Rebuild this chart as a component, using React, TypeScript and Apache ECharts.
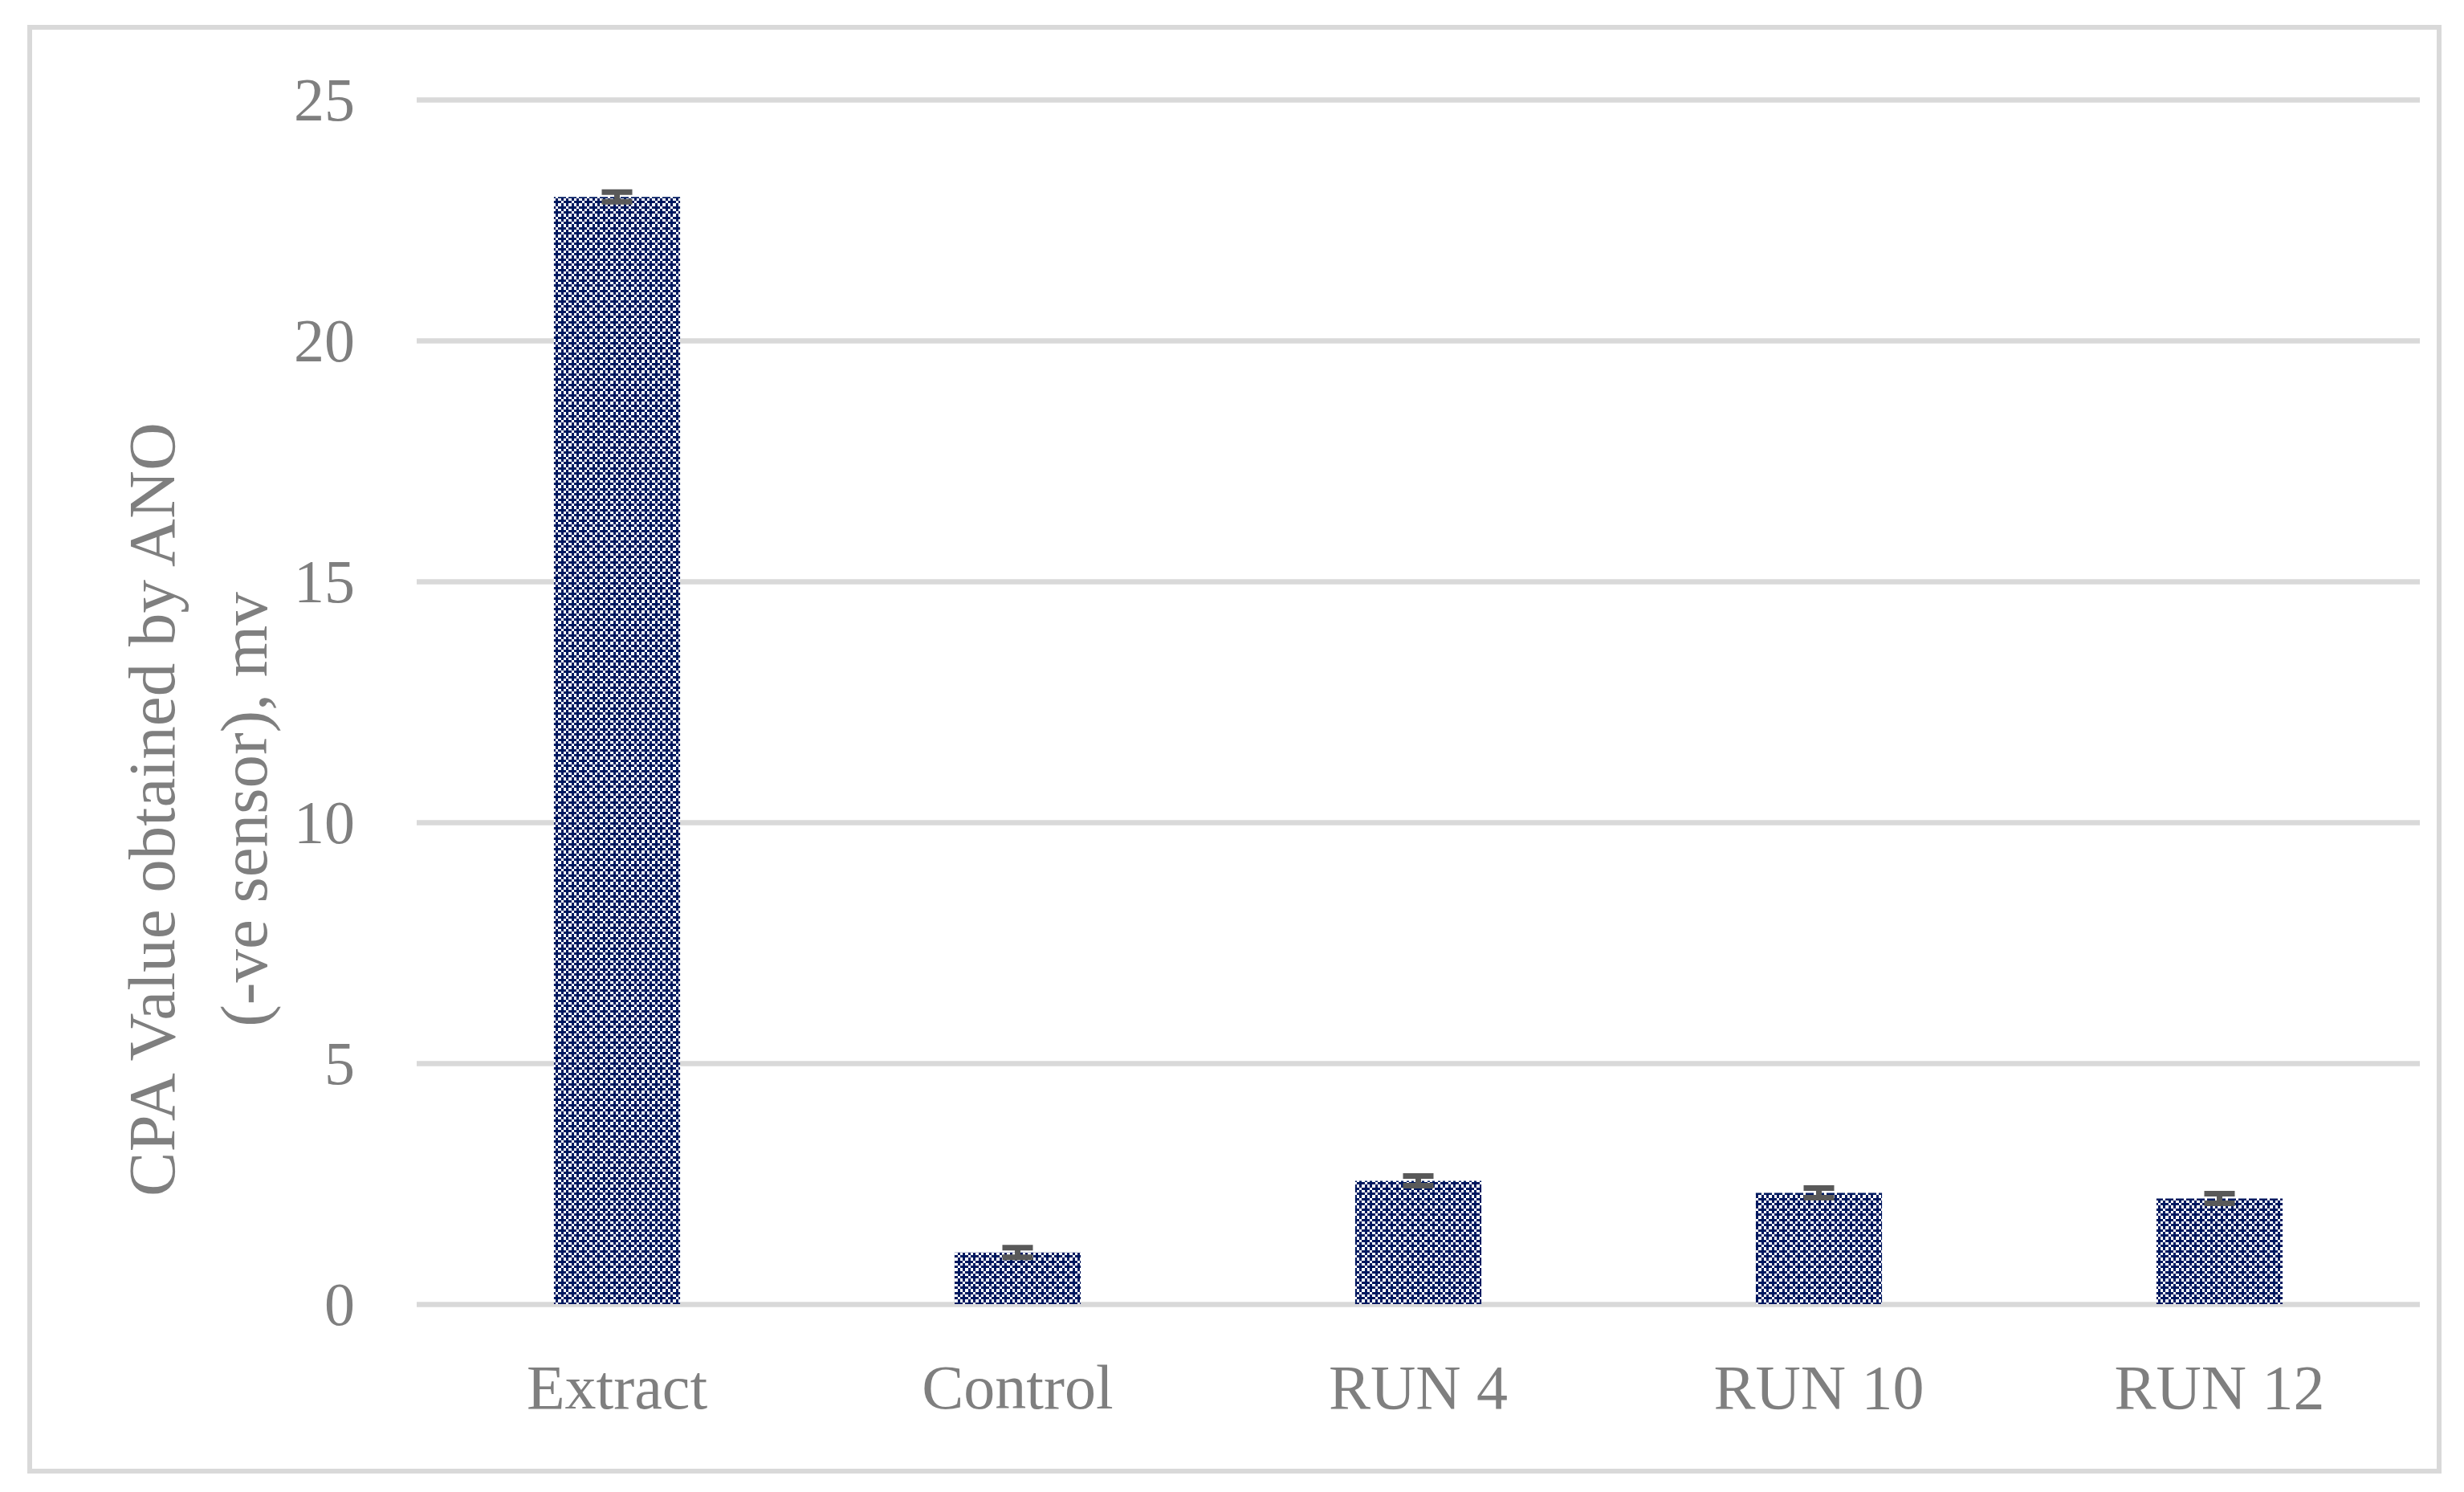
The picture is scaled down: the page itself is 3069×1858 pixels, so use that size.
import React, { useEffect, useRef } from "react";
import * as echarts from "echarts";

const categories = ["Extract", "Control", "RUN 4", "RUN 10", "RUN 12"];
const values = [22.98, 1.07, 2.56, 2.31, 2.19];
const errors = [0.1, 0.1, 0.1, 0.1, 0.1];
const yTicks = { min: 0, max: 25, interval: 5 };
const yTitle = "CPA Value obtained by ANO\n(-ve sensor), mv";

const NAVY = "#00195F";
const GRID = "#D9D9D9";
const TEXT = "#7F7F7F";
const FONT = "'Liberation Serif', 'DejaVu Serif', serif";

function makePattern(): HTMLCanvasElement {
  // 4x4 cell tile, cell edges at 0,3,6,10,13 px (period 13)
  const edges = [0, 3, 6, 10, 13];
  const cv = document.createElement("canvas");
  cv.width = 13;
  cv.height = 13;
  const ctx = cv.getContext("2d")!;
  ctx.fillStyle = "#FFFFFF";
  ctx.fillRect(0, 0, cv.width, cv.height);
  ctx.fillStyle = NAVY;
  const navy = [
    [1, 0], [3, 0], [0, 1], [1, 1], [2, 1], [1, 2], [3, 2], [2, 3], [3, 3], [0, 3],
  ];
  navy.forEach(([i, j]) =>
    ctx.fillRect(edges[i], edges[j], edges[i + 1] - edges[i], edges[j + 1] - edges[j])
  );
  return cv;
}

export default function App() {
  const ref = useRef<HTMLDivElement>(null);
  useEffect(() => {
    document.body.style.margin = "0";
    if (!ref.current) return;
    const chart = echarts.init(ref.current, undefined, { renderer: "svg" });
    const pattern = makePattern();
    chart.setOption({
      animation: false,
      backgroundColor: "#FFFFFF",
      grid: { left: 519, right: 55, top: 124, bottom: 234 },
      xAxis: {
        type: "category",
        data: categories,
        axisLine: { show: false },
        axisTick: { show: false },
        axisLabel: { color: TEXT, fontFamily: FONT, fontSize: 78, margin: 64 },
      },
      yAxis: {
        type: "value",
        min: yTicks.min,
        max: yTicks.max,
        interval: yTicks.interval,
        axisLine: { show: false },
        axisTick: { show: false },
        axisLabel: { color: TEXT, fontFamily: FONT, fontSize: 76, margin: 77 },
        splitLine: { show: true, lineStyle: { color: GRID, width: 6.5 } },
      },
      graphic: [
        {
          type: "rect",
          shape: { x: 37, y: 34, width: 3001, height: 1798 },
          style: { fill: "none", stroke: GRID, lineWidth: 6 },
          silent: true,
        },
        {
          type: "text",
          x: 246,
          y: 1008,
          rotation: Math.PI / 2,
          style: {
            text: yTitle,
            fill: TEXT,
            fontFamily: FONT,
            fontSize: 83,
            align: "center",
            verticalAlign: "middle",
            lineHeight: 115,
          },
          silent: true,
        },
      ],
      series: [
        {
          type: "bar",
          data: values,
          barWidth: "31.5%",
          itemStyle: { color: { image: pattern, repeat: "repeat" } },
          silent: true,
        },
        {
          type: "custom",
          data: values.map((v, i) => [i, v, errors[i]]),
          silent: true,
          z: 10,
          renderItem: (params: any, api: any) => {
            const i = api.value(0);
            const v = api.value(1);
            const e = api.value(2);
            const top = api.coord([i, v + e]);
            const bot = api.coord([i, v - e]);
            const hw = 19;
            const style = { stroke: "#595959", lineWidth: 7 };
            return {
              type: "group",
              children: [
                { type: "line", shape: { x1: top[0], y1: top[1], x2: bot[0], y2: bot[1] }, style },
                { type: "line", shape: { x1: top[0] - hw, y1: top[1], x2: top[0] + hw, y2: top[1] }, style },
                { type: "line", shape: { x1: bot[0] - hw, y1: bot[1], x2: bot[0] + hw, y2: bot[1] }, style },
              ],
            };
          },
        },
      ],
    });
    return () => chart.dispose();
  }, []);
  return <div ref={ref} style={{ width: 3069, height: 1858 }} />;
}
